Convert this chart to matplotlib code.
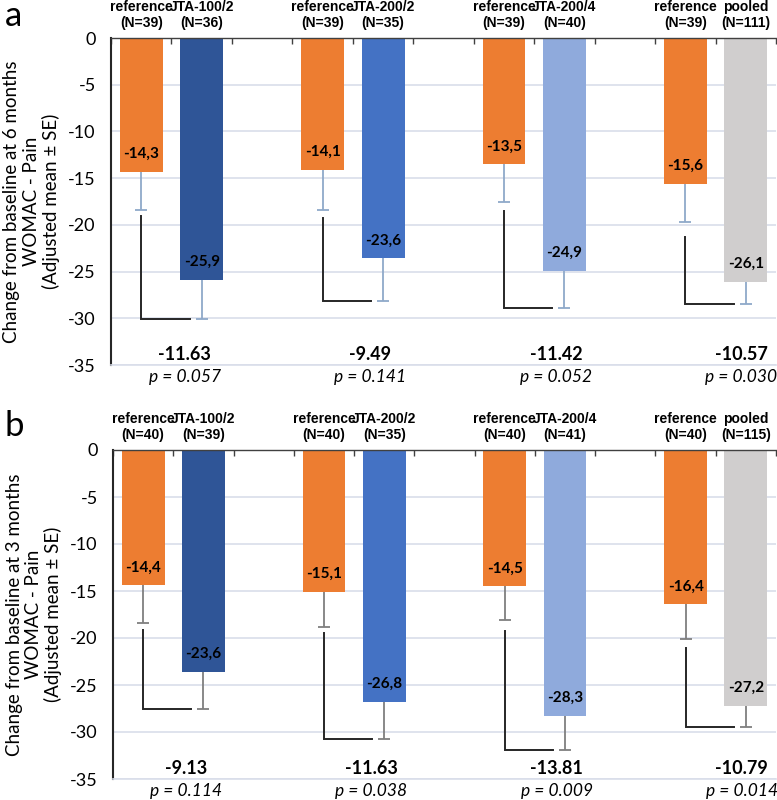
import numpy as np
import matplotlib
matplotlib.use("Agg")
import matplotlib.pyplot as plt

plt.rcParams['font.family'] = ['Lato', 'DejaVu Sans']
plt.rcParams['axes.unicode_minus'] = False

# treatment arms and colours
trt_names = ['JTA-100/2', 'JTA-200/2', 'JTA-200/4', 'pooled']
trt_colors = ['#2F5597', '#4472C4', '#8FAADC', '#D0CECE']
ref_color = '#ED7D31'

# panel a: 6 months
a_ref_n = [39, 39, 39, 39]
a_trt_n = [36, 35, 40, 111]
a_ref_mean = [-14.3, -14.1, -13.5, -15.6]
a_trt_mean = [-25.9, -23.6, -24.9, -26.1]
a_ref_se = [4.1, 4.3, 4.0, 4.1]
a_trt_se = [4.2, 4.6, 4.0, 2.4]
a_bracket_top = [-19.0, -19.3, -18.5, -21.3]
a_diff = ['-11.63', '-9.49', '-11.42', '-10.57']
a_p = ['0.057', '0.141', '0.052', '0.030']

# panel b: 3 months
b_ref_n = [40, 40, 40, 40]
b_trt_n = [39, 35, 41, 115]
b_ref_mean = [-14.4, -15.1, -14.5, -16.4]
b_trt_mean = [-23.6, -26.8, -28.3, -27.2]
b_ref_se = [4.0, 3.7, 3.6, 3.7]
b_trt_se = [4.0, 3.9, 3.6, 2.3]
b_bracket_top = [-19.2, -19.5, -19.3, -21.1]
b_diff = ['-9.13', '-11.63', '-13.81', '-10.79']
b_p = ['0.114', '0.038', '0.009', '0.014']

grid_color = '#D9DEEA'


def draw_panel(ax, months, ref_n, trt_n, ref_mean, trt_mean, ref_se, trt_se,
               br_top, diff, pvals, err_color):
    ngroups = len(trt_names)
    x_ref = np.arange(ngroups) * 3
    x_trt = x_ref + 1

    ax.bar(x_ref, ref_mean, width=0.71, color=ref_color, zorder=2)
    ax.bar(x_trt, trt_mean, width=0.71, color=trt_colors, zorder=2)

    # lower error bars only
    for xs, m, se in [(x_ref, ref_mean, ref_se), (x_trt, trt_mean, trt_se)]:
        eb = ax.errorbar(xs, m, yerr=[se, np.zeros(len(se))], fmt='none',
                         ecolor=err_color, elinewidth=1.3, capsize=4.3,
                         capthick=1.3, zorder=3)
        for cl in eb[1]:
            if np.allclose(cl.get_ydata(), m):
                cl.set_visible(False)

    # brackets
    for i in range(ngroups):
        bottom = trt_mean[i] - trt_se[i]
        ax.plot([x_ref[i], x_ref[i], x_trt[i] - 0.2],
                [br_top[i], bottom, bottom],
                color='#262626', lw=1.4, zorder=3, solid_joinstyle='miter')

    # value labels
    for xs, m in [(x_ref, ref_mean), (x_trt, trt_mean)]:
        for x, v in zip(xs, m):
            ax.text(x, v + 1.9, f"{v:.1f}".replace('.', ','), ha='center',
                    va='center', fontsize=11, fontweight='bold', zorder=4)

    # differences and p-values
    for i in range(ngroups):
        xt = x_ref[i] + 0.72 + 0.07 * i
        ax.text(xt, -33.9, diff[i], ha='center', va='center', fontsize=13,
                fontweight='bold')
        ax.text(xt, -36.3, f"p = {pvals[i]}", ha='center', va='center',
                fontsize=12.5, style='italic', clip_on=False)

    # column headers
    for i in range(ngroups):
        for x, name, n in [(x_ref[i], 'reference', ref_n[i]),
                           (x_trt[i], trt_names[i], trt_n[i])]:
            ax.annotate(name, xy=(x, 0), xytext=(0, 22.5),
                        textcoords='offset points', ha='center', va='center',
                        fontsize=10, fontweight='bold',
                        family='Liberation Sans', annotation_clip=False)
            ax.annotate(f"(N={n})", xy=(x, 0), xytext=(0, 11),
                        textcoords='offset points', ha='center', va='center',
                        fontsize=10, fontweight='bold',
                        family='Liberation Sans', annotation_clip=False)

    ax.set_xlim(-0.5, 10.5)
    ax.set_ylim(-35, 0)
    ax.set_yticks(np.arange(-35, 1, 5))
    ax.set_yticklabels([str(v) for v in np.arange(-35, 1, 5)])
    ax.tick_params(axis='y', length=0, pad=11, labelsize=13)
    ax.yaxis.grid(True, color=grid_color, lw=1.2)
    ax.set_axisbelow(True)

    ax.xaxis.set_ticks_position('top')
    ax.set_xticks(np.arange(-0.5, 10.6, 1))
    ax.set_xticklabels([])
    ax.tick_params(axis='x', direction='in', length=4, width=1, color='#404040')

    ax.spines['right'].set_visible(False)
    ax.spines['bottom'].set_color(grid_color)
    ax.spines['bottom'].set_linewidth(1.2)
    ax.spines['top'].set_color('#404040')
    ax.spines['top'].set_linewidth(1)
    ax.spines['left'].set_color('#262626')
    ax.spines['left'].set_linewidth(1.5)

    ax.set_ylabel(f"Change from baseline at {months} months\nWOMAC - Pain\n(Adjusted mean ± SE)",
                  fontsize=13.5, multialignment='center', linespacing=1.15)
    ax.yaxis.set_label_coords(-0.077, 0.5)


fig = plt.figure(figsize=(7.77, 8), dpi=100)
ax_a = fig.add_axes([0.1429, 0.54375, 0.8558, 0.40875])
ax_b = fig.add_axes([0.1454, 0.02625, 0.8533, 0.41125])

draw_panel(ax_a, 6, a_ref_n, a_trt_n, a_ref_mean, a_trt_mean, a_ref_se,
           a_trt_se, a_bracket_top, a_diff, a_p, '#8FA9C9')
draw_panel(ax_b, 3, b_ref_n, b_trt_n, b_ref_mean, b_trt_mean, b_ref_se,
           b_trt_se, b_bracket_top, b_diff, b_p, '#7F7F7F')

fig.text(0.006, 1 - 26 / 800, 'a', fontsize=25, va='baseline', ha='left')
fig.text(0.006, 1 - 436 / 800, 'b', fontsize=25, va='baseline', ha='left')

fig.savefig('out.png', dpi=100)
